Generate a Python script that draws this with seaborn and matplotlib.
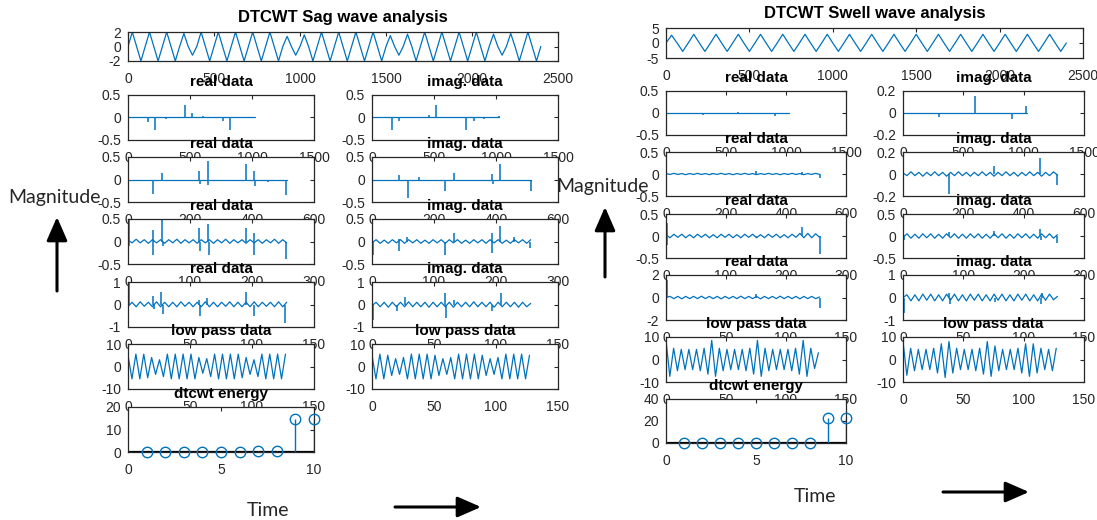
import numpy as np
import matplotlib
matplotlib.use("Agg")
import matplotlib.pyplot as plt
import seaborn as sns
from matplotlib.ticker import FuncFormatter, FixedLocator
from matplotlib.patches import FancyArrowPatch, ArrowStyle

# ------------------------------------------------------------------ data
# top waveforms: extrema of each cycle (peak, trough)
SAG_LEN = 2400
SAG_PEAKS = [2, 2, 2, 1.8, 2, 2, 2, 2, 2, 1.4, 1.6, 2, 2, 2, 2, 1.5, 1.7, 2, 2, 2, 2, 1.7, 1.8, 2]
SAG_TROUGHS = [-2, -2, -2, -1.2, -2, -2, -2, -2, -2, -1.2, -2, -2, -2, -2, -2, -1.2, -2, -2, -2, -2, -2, -1.2, -2, -2]
SWELL_LEN = 2400
SWELL_PEAKS = [2.6, 2.9, 2.9, 2.9, 2.9, 2.9, 2.9, 2.9, 2.9, 2.9, 2.9, 2.9, 2.9, 2.9, 2.9, 2.9, 2.9, 2.9]
SWELL_TROUGHS = [-2.8, -2.8, -2.8, -2.8, -2.8, -2.8, -2.8, -2.8, -2.8, -2.8, -2.8, -2.8, -2.8, -2.8, -2.8, -2.8, -2.8, -2.8]

# detail coefficient lengths per level
LEVEL_LEN = [1024, 512, 256, 128]
LOWPASS_LEN = 128

# background (ripple) extrema per series, spikes as (sample, value)
SAG_L1_REAL_RIPPLE = [0.0, 0.0]
SAG_L1_REAL_SPIKES = [(0, 0.2), (158, -0.1), (215, -0.28), (307, -0.03), (460, 0.28), (517, 0.1),
                      (603, 0.03), (767, -0.08), (819, -0.28), (902, -0.02)]
SAG_L1_IMAG_RIPPLE = [0.0, 0.0]
SAG_L1_IMAG_SPIKES = [(0, 0.05), (164, -0.27), (215, -0.08), (302, -0.02), (460, 0.06), (514, 0.27),
                      (600, 0.02), (761, -0.27), (819, -0.08), (905, -0.03), (1024, 0.04)]
SAG_L2_REAL_RIPPLE = [0.0, 0.0]
SAG_L2_REAL_SPIKES = [(80, -0.32), (109, 0.15), (230, 0.18), (232, -0.1), (257, 0.4), (259, -0.12),
                      (382, 0.35), (407, 0.2), (409, -0.15), (450, -0.05), (511, -0.35)]
SAG_L2_IMAG_RIPPLE = [0.0, 0.0]
SAG_L2_IMAG_SPIKES = [(0, -0.2), (87, 0.1), (116, -0.4), (150, 0.05), (235, -0.25), (264, 0.15),
                      (388, 0.12), (390, -0.1), (413, 0.35), (512, -0.25)]
SAG_L3_REAL_RIPPLE = [0.03, -0.03, 0.05, -0.03, 0.04, -0.04, 0.04, -0.03, 0.04, -0.04, 0.04, -0.03, 0.05, -0.04,
                      0.04, -0.03, 0.04, -0.04, 0.04, -0.03, 0.04, -0.04, 0.04, -0.03, 0.05, -0.04, 0.04, -0.03,
                      0.04, -0.04, 0.04, -0.03, 0.04, -0.04, 0.04, -0.03, 0.05, -0.04, 0.04, -0.03]
SAG_L3_REAL_SPIKES = [(1, 0.5), (2, -0.1), (40, 0.25), (41, -0.3), (55, 0.55), (56, -0.1), (115, 0.3),
                      (116, -0.2), (129, 0.38), (130, -0.3), (191, 0.3), (203, 0.2), (204, -0.3), (255, -0.38)]
SAG_L3_IMAG_RIPPLE = [-0.03, 0.04, -0.04, 0.03, -0.04, 0.04, -0.03, 0.04, -0.04, 0.04, -0.03, 0.04, -0.04, 0.03,
                      -0.04, 0.04, -0.03, 0.04, -0.04, 0.04, -0.03, 0.04, -0.04, 0.03, -0.04, 0.04, -0.03, 0.04,
                      -0.04, 0.04, -0.03, 0.04, -0.04, 0.03, -0.04, 0.04, -0.03, 0.04, -0.04, 0.04]
SAG_L3_IMAG_SPIKES = [(1, -0.3), (43, 0.05), (44, -0.2), (57, 0.1), (117, -0.3), (132, 0.2), (193, 0.2),
                      (194, -0.25), (206, 0.35), (229, 0.1), (255, -0.15)]
SAG_L4_REAL_RIPPLE = [-0.1, 0.1, -0.1, 0.12, -0.08, 0.1, -0.1, 0.12, -0.1, 0.1, -0.1, 0.1, -0.1, 0.12,
                      -0.08, 0.1, -0.1, 0.1, -0.1, 0.12, -0.1, 0.1, -0.1, 0.1, -0.08, 0.12, -0.1, 0.1,
                      -0.1, 0.1, -0.1, 0.12, -0.1, 0.1, -0.08, 0.1, -0.1, 0.12, -0.1, 0.1]
SAG_L4_REAL_SPIKES = [(1, 1.0), (20, 0.4), (21, -0.2), (27, 0.55), (28, -0.4), (57, 0.2), (58, -0.5),
                      (64, 0.3), (95, 0.55), (102, -0.5), (127, -0.8)]
SAG_L4_IMAG_RIPPLE = [-0.05, 0.1, -0.1, 0.1, -0.12, 0.1, -0.1, 0.1, -0.1, 0.12, -0.1, 0.1, -0.1, 0.1,
                      -0.12, 0.1, -0.1, 0.1, -0.1, 0.1, -0.12, 0.1, -0.1, 0.1, -0.1, 0.12, -0.1, 0.1,
                      -0.1, 0.1, -0.12, 0.1, -0.1, 0.1, -0.1, 0.1, -0.12, 0.1, -0.1, 0.05]
SAG_L4_IMAG_SPIKES = [(1, -0.7), (20, -0.3), (27, 0.35), (59, 0.5), (60, -0.6), (66, 0.2), (97, -0.3),
                      (104, 0.5)]
SAG_LP_REAL = [5, -5.5, 5.5, -5.5, 5.5, -5, 4, -3.5, 3, -4.5, 5.5, -5.5, 5.5, -5.5, 5.5, -5.5, 5.5, -5.5,
               4, -3, 3.5, -4.5, 5.5, -5.5, 5.5, -5.5, 5.5, -5.5, 5.5, -5, 4, -3.5, 3, -4.5, 5.5, -5.5,
               5.5, -5.5, 5.5, -5.5, 5.5]
SAG_LP_IMAG = [5, -5.5, 5.5, -5.5, 5, -4, 3.5, -3.5, 4, -5.5, 5.5, -5.5, 5.5, -5.5, 5.5, -5.5, 5, -4,
               3.5, -3.5, 4, -5.5, 5.5, -5.5, 5.5, -5.5, 5.5, -5.5, 5, -4, 3.5, -3.5, 4, -5.5, 5.5, -5.5,
               5.5, -5.5, 5.5, -5.5, 5]
SAG_ENERGY = [0.1, 0.1, 0.2, 0.2, 0.2, 0.2, 0.3, 0.3, 14.5, 14.6]

SWELL_L1_REAL_RIPPLE = [0.0, 0.0]
SWELL_L1_REAL_SPIKES = [(0, 0.25), (307, -0.05), (600, 0.02), (905, -0.06)]
SWELL_L1_IMAG_RIPPLE = [0.0, 0.0]
SWELL_L1_IMAG_SPIKES = [(0, 0.15), (301, -0.04), (599, 0.15), (903, -0.05), (1023, 0.06)]
SWELL_L2_REAL_RIPPLE = [0.01, -0.01, 0.015, -0.01, 0.01, -0.015, 0.01, -0.01, 0.015, -0.01, 0.01, -0.015,
                        0.01, -0.01, 0.015, -0.01, 0.01, -0.015, 0.01, -0.01, 0.015, -0.01, 0.01, -0.015,
                        0.01, -0.01, 0.015, -0.01, 0.01, -0.015, 0.01, -0.01, 0.015, -0.01, 0.01, -0.015,
                        0.01, -0.01, 0.015, -0.01]
SWELL_L2_REAL_SPIKES = [(0, 0.05), (152, 0.03), (301, 0.07), (453, 0.05), (455, -0.03), (512, -0.1)]
SWELL_L2_IMAG_RIPPLE = [0.01, -0.015, 0.02, -0.015, 0.015, -0.02, 0.015, -0.015, 0.02, -0.015, 0.015, -0.02,
                        0.015, -0.015, 0.02, -0.015, 0.015, -0.02, 0.015, -0.015, 0.02, -0.015, 0.015, -0.02,
                        0.015, -0.015, 0.02, -0.015, 0.015, -0.02, 0.015, -0.015, 0.02, -0.015, 0.015, -0.02,
                        0.015, -0.015, 0.02, -0.01]
SWELL_L2_IMAG_SPIKES = [(0, -0.2), (152, -0.18), (302, 0.07), (454, 0.15), (509, -0.1)]
SWELL_L3_REAL_RIPPLE = [0.03, -0.04, 0.04, -0.03, 0.04, -0.04, 0.03, -0.04, 0.04, -0.03, 0.04, -0.04,
                        0.03, -0.04, 0.04, -0.03, 0.04, -0.04, 0.03, -0.04, 0.04, -0.03, 0.04, -0.04,
                        0.03, -0.04, 0.04, -0.03, 0.04, -0.04, 0.03, -0.04, 0.04, -0.03, 0.06, -0.04,
                        0.06, -0.04, 0.05, -0.03]
SWELL_L3_REAL_SPIKES = [(1, 0.3), (2, -0.2), (150, -0.03), (227, 0.2), (256, -0.4)]
SWELL_L3_IMAG_RIPPLE = [-0.03, 0.05, -0.05, 0.04, -0.05, 0.05, -0.04, 0.05, -0.05, 0.04, -0.05, 0.05,
                        -0.04, 0.05, -0.05, 0.04, -0.05, 0.05, -0.04, 0.05, -0.05, 0.04, -0.05, 0.05,
                        -0.04, 0.05, -0.05, 0.04, -0.05, 0.05, -0.04, 0.05, -0.05, 0.04, -0.05, 0.05,
                        -0.04, 0.05, -0.05, 0.03]
SWELL_L3_IMAG_SPIKES = [(1, -0.1), (76, 0.1), (151, 0.12), (227, 0.15), (228, -0.1), (256, -0.15)]
SWELL_L4_REAL_RIPPLE = [0.0, 0.1, -0.1, 0.1, -0.12, 0.1, -0.1, 0.1, -0.1, 0.12, -0.1, 0.1, -0.1, 0.1,
                        -0.12, 0.1, -0.1, 0.1, -0.1, 0.12, -0.1, 0.1, -0.1, 0.1, -0.12, 0.1, -0.1, 0.1,
                        -0.1, 0.12, -0.1, 0.1, -0.1, 0.1, -0.12, 0.1, -0.1, 0.1, -0.1, 0.05]
SWELL_L4_REAL_SPIKES = [(1, 1.6), (75, 0.3), (128, -0.9)]
SWELL_L4_IMAG_RIPPLE = [0.0, 0.12, -0.15, 0.12, -0.15, 0.15, -0.12, 0.15, -0.15, 0.12, -0.15, 0.15,
                        -0.12, 0.15, -0.15, 0.12, -0.15, 0.15, -0.12, 0.15, -0.15, 0.12, -0.15, 0.15,
                        -0.12, 0.15, -0.15, 0.12, -0.15, 0.15, -0.12, 0.15, -0.15, 0.12, -0.15, 0.15,
                        -0.12, 0.15, -0.1, 0.05]
SWELL_L4_IMAG_SPIKES = [(1, -0.7), (38, 0.2), (39, -0.3), (76, -0.2), (114, -0.3), (115, 0.2)]
SWELL_LP_REAL = [8.5, -7.5, 5, -5, 4.5, -4.5, 4.5, -4.5, 4.5, -5, 5, -6.5, 8.5, -7.5, 5, -5, 4.5, -4.5,
                 4.5, -4.5, 4.5, -5, 5, -6.5, 8.5, -7.5, 5, -5, 4.5, -4.5, 4.5, -4.5, 4.5, -5, 5, -6.5,
                 8.5, -7.5, 5, -4, 3]
SWELL_LP_IMAG = [8, -7, 5, -5, 4.5, -4.5, 4.5, -4.5, 5, -6, 7, -8, 8, -6, 5, -4.5, 4.5, -4.5, 4.5, -5,
                 5, -6.5, 8, -7.5, 6, -5, 4.5, -4.5, 4.5, -4.5, 5, -6, 7, -7.5, 7, -6, 5, -4.5, 4.5, -5, 5]
SWELL_ENERGY = [0.1, 0.1, 0.1, 0.2, 0.2, 0.2, 0.2, 0.3, 22.5, 22.6]
ENERGY_INDEX = [1, 2, 3, 4, 5, 6, 7, 8, 9, 10]

# axis ticks
TOP_XTICKS = [0, 500, 1000, 1500, 2000, 2500]
LEVEL_XTICKS = [[0, 500, 1000, 1500], [0, 200, 400, 600], [0, 100, 200, 300], [0, 50, 100, 150]]
LP_XTICKS = [0, 50, 100, 150]
ENERGY_XTICKS = [0, 5, 10]

# ------------------------------------------------------------------ style
W, H = 1097, 520
BLUE = "#0072BD"
AXC = "#262626"
sns.set_theme(style="white")
plt.rcParams["font.family"] = ["Liberation Sans", "DejaVu Sans"]
plt.rcParams["axes.unicode_minus"] = False

fig = plt.figure(figsize=(W / 100, H / 100), dpi=100)
fmt = FuncFormatter(lambda v, p: f"{v:g}")


def add_ax(x0, y0, x1, y1):
    return fig.add_axes([x0 / W, 1 - y1 / H, (x1 - x0) / W, (y1 - y0) / H])


def style(ax, xticks, yticks, title, tsize=11, tpad=6.5):
    ax.set_xlim(xticks[0], xticks[-1])
    ax.set_ylim(yticks[0], yticks[-1])
    ax.xaxis.set_major_locator(FixedLocator(xticks))
    ax.yaxis.set_major_locator(FixedLocator(yticks))
    ax.xaxis.set_major_formatter(fmt)
    ax.yaxis.set_major_formatter(fmt)
    ax.tick_params(axis="both", direction="in", top=True, right=True, length=3, width=0.8,
                   color=AXC, labelcolor=AXC, labelsize=10)
    ax.tick_params(axis="x", pad=8)
    ax.tick_params(axis="y", pad=5)
    for s in ax.spines.values():
        s.set_visible(True)
        s.set_color(AXC)
        s.set_linewidth(0.9)
    ax.set_xlabel("")
    ax.set_ylabel("")
    ax.set_title(title, fontsize=tsize, fontweight="bold", pad=tpad, color="black")


def wave(ax, peaks, troughs, length):
    ys = [0.0]
    for p, t in zip(peaks, troughs):
        ys += [p, 0.0, t, 0.0]
    xs = np.arange(len(ys)) * length / (len(ys) - 1)
    sns.lineplot(x=xs, y=ys, ax=ax, color=BLUE, linewidth=0.9, estimator=None, sort=False)


def detail(ax, ripple, spikes, length):
    xs = np.linspace(0, length, len(ripple))
    sns.lineplot(x=xs, y=ripple, ax=ax, color=BLUE, linewidth=0.9, estimator=None, sort=False)
    sx = [s[0] for s in spikes]
    sv = [s[1] for s in spikes]
    ax.vlines(sx, 0, sv, color=BLUE, linewidth=1.1)


def lowpass(ax, vals, length):
    xs = np.linspace(0, length - 1, len(vals))
    sns.lineplot(x=xs, y=vals, ax=ax, color=BLUE, linewidth=0.9, estimator=None, sort=False)


def energy(ax, vals):
    ax.axhline(0, color="black", linewidth=1.6, zorder=1)
    ax.vlines(ENERGY_INDEX, 0, vals, color=BLUE, linewidth=1.0, zorder=2)
    ax.plot(ENERGY_INDEX, vals, "o", mfc="none", mec=BLUE, ms=7.5, mew=1.0, clip_on=False, zorder=3)


def panel(cfg):
    (tx0, ty0, tx1, ty1), cols, rows = cfg["layout"]
    ax = add_ax(tx0, ty0, tx1, ty1)
    wave(ax, cfg["peaks"], cfg["troughs"], cfg["len"])
    style(ax, TOP_XTICKS, cfg["top_yticks"], cfg["title"], tsize=12, tpad=7)
    for lvl in range(4):
        y0, y1 = rows[lvl]
        for c, (name, key) in enumerate([("real data", "real"), ("imag. data", "imag")]):
            x0, x1 = cols[c]
            a = add_ax(x0, y0, x1, y1)
            rip, spk = cfg[key][lvl]
            detail(a, rip, spk, LEVEL_LEN[lvl])
            style(a, LEVEL_XTICKS[lvl], cfg["yticks"][key][lvl], name)
    y0, y1 = rows[4]
    for c, key in enumerate(["lp_real", "lp_imag"]):
        x0, x1 = cols[c]
        a = add_ax(x0, y0, x1, y1)
        lowpass(a, cfg[key], LOWPASS_LEN)
        style(a, LP_XTICKS, [-10, 0, 10], "low pass data")
    y0, y1 = rows[5]
    x0, x1 = cols[0]
    a = add_ax(x0, y0, x1, y1)
    energy(a, cfg["energy"])
    style(a, ENERGY_XTICKS, cfg["energy_yticks"], "dtcwt energy")


sag_cfg = dict(
    layout=((128, 32, 558, 61), [(128, 314), (372, 558)],
            [(95, 140), (157, 202), (219, 264), (282, 327), (344, 389), (407, 452)]),
    peaks=SAG_PEAKS, troughs=SAG_TROUGHS, len=SAG_LEN, top_yticks=[-2, 0, 2],
    title="DTCWT Sag wave analysis",
    real=[(SAG_L1_REAL_RIPPLE, SAG_L1_REAL_SPIKES), (SAG_L2_REAL_RIPPLE, SAG_L2_REAL_SPIKES),
          (SAG_L3_REAL_RIPPLE, SAG_L3_REAL_SPIKES), (SAG_L4_REAL_RIPPLE, SAG_L4_REAL_SPIKES)],
    imag=[(SAG_L1_IMAG_RIPPLE, SAG_L1_IMAG_SPIKES), (SAG_L2_IMAG_RIPPLE, SAG_L2_IMAG_SPIKES),
          (SAG_L3_IMAG_RIPPLE, SAG_L3_IMAG_SPIKES), (SAG_L4_IMAG_RIPPLE, SAG_L4_IMAG_SPIKES)],
    yticks=dict(real=[[-0.5, 0, 0.5], [-0.5, 0, 0.5], [-0.5, 0, 0.5], [-1, 0, 1]],
                imag=[[-0.5, 0, 0.5], [-0.5, 0, 0.5], [-0.5, 0, 0.5], [-1, 0, 1]]),
    lp_real=SAG_LP_REAL, lp_imag=SAG_LP_IMAG, energy=SAG_ENERGY, energy_yticks=[0, 10, 20],
)
swell_cfg = dict(
    layout=((666, 28, 1083, 58), [(666, 846), (903, 1084)],
            [(91, 135), (152, 196), (214, 258), (275, 320), (337, 382), (399, 443)]),
    peaks=SWELL_PEAKS, troughs=SWELL_TROUGHS, len=SWELL_LEN, top_yticks=[-5, 0, 5],
    title="DTCWT Swell wave analysis",
    real=[(SWELL_L1_REAL_RIPPLE, SWELL_L1_REAL_SPIKES), (SWELL_L2_REAL_RIPPLE, SWELL_L2_REAL_SPIKES),
          (SWELL_L3_REAL_RIPPLE, SWELL_L3_REAL_SPIKES), (SWELL_L4_REAL_RIPPLE, SWELL_L4_REAL_SPIKES)],
    imag=[(SWELL_L1_IMAG_RIPPLE, SWELL_L1_IMAG_SPIKES), (SWELL_L2_IMAG_RIPPLE, SWELL_L2_IMAG_SPIKES),
          (SWELL_L3_IMAG_RIPPLE, SWELL_L3_IMAG_SPIKES), (SWELL_L4_IMAG_RIPPLE, SWELL_L4_IMAG_SPIKES)],
    yticks=dict(real=[[-0.5, 0, 0.5], [-0.5, 0, 0.5], [-0.5, 0, 0.5], [-2, 0, 2]],
                imag=[[-0.2, 0, 0.2], [-0.2, 0, 0.2], [-0.5, 0, 0.5], [-1, 0, 1]]),
    lp_real=SWELL_LP_REAL, lp_imag=SWELL_LP_IMAG, energy=SWELL_ENERGY, energy_yticks=[0, 20, 40],
)

panel(sag_cfg)
panel(swell_cfg)

# ------------------------------------------------------------------ annotations
ANN_FONT = ["Lato", "DejaVu Sans"]
fig.text(8 / W, 1 - 198 / H, "Magnitude", fontsize=14, family=ANN_FONT, va="center", ha="left")
fig.text(556 / W, 1 - 186 / H, "Magnitude", fontsize=14, family=ANN_FONT, va="center", ha="left")
fig.text(268 / W, 1 - 510 / H, "Time", fontsize=14, family=ANN_FONT, va="center", ha="center")
fig.text(815 / W, 1 - 497 / H, "Time", fontsize=14, family=ANN_FONT, va="center", ha="center")

style_arrow = ArrowStyle("-|>", head_length=0.8, head_width=0.35)
for (xa, ya), (xb, yb) in [((57, 291), (57, 217)), ((605, 277), (605, 207)),
                           ((395, 507), (481, 507)), ((943, 492), (1029, 492))]:
    fig.add_artist(FancyArrowPatch((xa / W, 1 - ya / H), (xb / W, 1 - yb / H), transform=fig.transFigure,
                                   arrowstyle=style_arrow, mutation_scale=18, color="black",
                                   linewidth=2.2, shrinkA=0, shrinkB=0))

fig.savefig("out.png", dpi=100)
